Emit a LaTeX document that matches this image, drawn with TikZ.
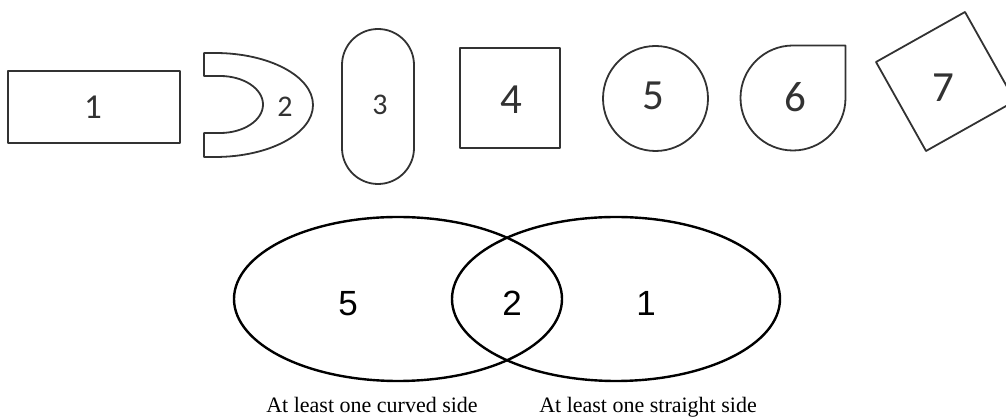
\documentclass[tikz,border=0pt]{standalone}
\usepackage{fontspec}
\setmainfont{Liberation Serif}
\newfontfamily\calib{Carlito}
\newfontfamily\arialf{Liberation Sans}
\definecolor{shapegray}{RGB}{50,50,50}
\begin{document}
\begin{tikzpicture}[x=1pt,y=1pt,
  shp/.style={draw=shapegray, line width=1.8pt, line join=round},
  venn/.style={draw=black, line width=2.4pt},
  lbl/.style={text=shapegray, inner sep=0pt},
  vlbl/.style={text=black, inner sep=0pt, font=\arialf\fontsize{35}{35}\selectfont},
  captxt/.style={text=black, inner sep=0pt, anchor=base, font=\fontsize{22}{22}\selectfont}]
\path[use as bounding box] (0,0) rectangle (1006,417);
\clip (0,0) rectangle (1006,417);
% shape 1
\draw[shp] (8,274) rectangle (180,346);
\node[lbl, font=\calib\fontsize{35}{35}\selectfont] (l1) at (93,310) {1};
% shape 2
\draw[shp] (204,364) -- (215,364) arc[start angle=90, end angle=-90, x radius=98, y radius=52]
  -- (204,260) -- (204,284) -- (220,284)
  arc[start angle=-90, end angle=90, x radius=43, y radius=28.5] -- (204,341) -- cycle;
\node[lbl, font=\calib\fontsize{30}{30}\selectfont] (l2) at (285,310) {2};
% shape 3
\draw[shp, rounded corners=36pt] (342,233) rectangle (414,388);
\node[lbl, font=\calib\fontsize{30}{30}\selectfont] (l3) at (380,312) {3};
% shape 4
\draw[shp] (460,269) rectangle (560,369);
\node[lbl, font=\calib\fontsize{43}{43}\selectfont] (l4) at (511,317.5) {4};
% shape 5
\draw[shp] (655.5,318.5) circle[radius=52.5];
\node[lbl, font=\calib\fontsize{43}{43}\selectfont] (l5) at (653,321) {5};
% shape 6
\draw[shp] (793,371.5) -- (845.5,371.5) -- (845.5,319)
  arc[start angle=0, end angle=-270, radius=52.5] -- cycle;
\node[lbl, font=\calib\fontsize{43}{43}\selectfont] (l6) at (795,320) {6};
% shape 7
\draw[shp] (965,405) -- (876,355) -- (926,266) -- (1015,316) -- cycle;
\node[lbl, font=\calib\fontsize{43}{43}\selectfont] (l7) at (943,329) {7};
% Venn
\draw[venn] (398,118) ellipse[x radius=164, y radius=82];
\draw[venn] (616,118) ellipse[x radius=164, y radius=82];
\node[vlbl] (v5) at (348,113) {5};
\node[vlbl] (v2) at (512,114) {2};
\node[vlbl] (v1) at (646,114) {1};
\node[captxt] (tc) at (372,4) {At least one curved side};
\node[captxt] (ts) at (648,4) {At least one straight side};
\end{tikzpicture}
\end{document}
